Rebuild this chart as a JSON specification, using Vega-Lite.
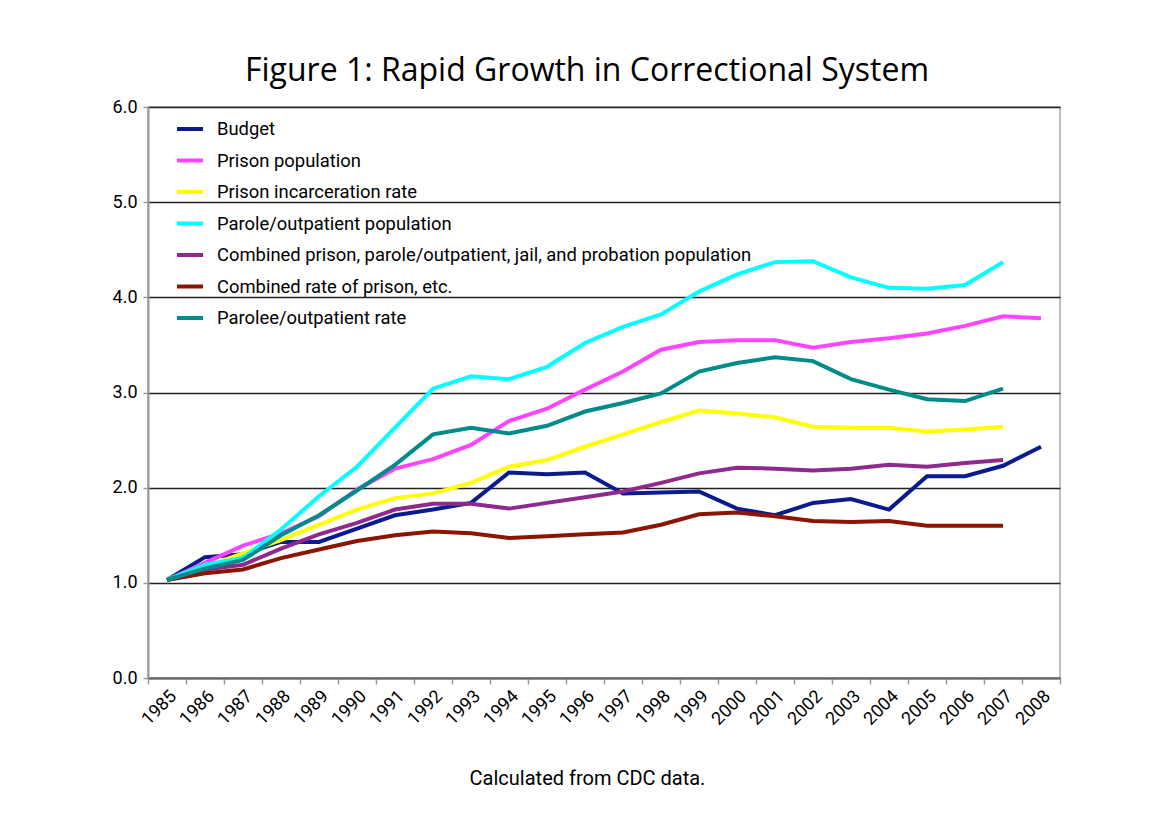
{
  "$schema": "https://vega.github.io/schema/vega-lite/v6.json",
  "width": 912,
  "height": 571,
  "autosize": {"type": "none"},
  "padding": {"left": 148, "top": 107, "right": 110, "bottom": 138},
  "background": "white",
  "title": {
    "text": "Figure 1: Rapid Growth in Correctional System",
    "font": "Open Sans",
    "fontSize": 32,
    "fontWeight": "normal",
    "color": "black",
    "anchor": "middle",
    "dx": -17,
    "offset": 10
  },
  "data": {
    "values": [
      {"year": "1985", "series": "Budget", "value": 1.03},
      {"year": "1986", "series": "Budget", "value": 1.27},
      {"year": "1987", "series": "Budget", "value": 1.30},
      {"year": "1988", "series": "Budget", "value": 1.43},
      {"year": "1989", "series": "Budget", "value": 1.43},
      {"year": "1990", "series": "Budget", "value": 1.57},
      {"year": "1991", "series": "Budget", "value": 1.71},
      {"year": "1992", "series": "Budget", "value": 1.77},
      {"year": "1993", "series": "Budget", "value": 1.84},
      {"year": "1994", "series": "Budget", "value": 2.16},
      {"year": "1995", "series": "Budget", "value": 2.14},
      {"year": "1996", "series": "Budget", "value": 2.16},
      {"year": "1997", "series": "Budget", "value": 1.94},
      {"year": "1998", "series": "Budget", "value": 1.95},
      {"year": "1999", "series": "Budget", "value": 1.96},
      {"year": "2000", "series": "Budget", "value": 1.78},
      {"year": "2001", "series": "Budget", "value": 1.71},
      {"year": "2002", "series": "Budget", "value": 1.84},
      {"year": "2003", "series": "Budget", "value": 1.88},
      {"year": "2004", "series": "Budget", "value": 1.77},
      {"year": "2005", "series": "Budget", "value": 2.12},
      {"year": "2006", "series": "Budget", "value": 2.12},
      {"year": "2007", "series": "Budget", "value": 2.23},
      {"year": "2008", "series": "Budget", "value": 2.43},

      {"year": "1985", "series": "Prison population", "value": 1.03},
      {"year": "1986", "series": "Prison population", "value": 1.21},
      {"year": "1987", "series": "Prison population", "value": 1.39},
      {"year": "1988", "series": "Prison population", "value": 1.52},
      {"year": "1989", "series": "Prison population", "value": 1.70},
      {"year": "1990", "series": "Prison population", "value": 1.98},
      {"year": "1991", "series": "Prison population", "value": 2.20},
      {"year": "1992", "series": "Prison population", "value": 2.30},
      {"year": "1993", "series": "Prison population", "value": 2.45},
      {"year": "1994", "series": "Prison population", "value": 2.70},
      {"year": "1995", "series": "Prison population", "value": 2.83},
      {"year": "1996", "series": "Prison population", "value": 3.03},
      {"year": "1997", "series": "Prison population", "value": 3.22},
      {"year": "1998", "series": "Prison population", "value": 3.45},
      {"year": "1999", "series": "Prison population", "value": 3.53},
      {"year": "2000", "series": "Prison population", "value": 3.55},
      {"year": "2001", "series": "Prison population", "value": 3.55},
      {"year": "2002", "series": "Prison population", "value": 3.47},
      {"year": "2003", "series": "Prison population", "value": 3.53},
      {"year": "2004", "series": "Prison population", "value": 3.57},
      {"year": "2005", "series": "Prison population", "value": 3.62},
      {"year": "2006", "series": "Prison population", "value": 3.70},
      {"year": "2007", "series": "Prison population", "value": 3.80},
      {"year": "2008", "series": "Prison population", "value": 3.78},

      {"year": "1985", "series": "Prison incarceration rate", "value": 1.03},
      {"year": "1986", "series": "Prison incarceration rate", "value": 1.17},
      {"year": "1987", "series": "Prison incarceration rate", "value": 1.31},
      {"year": "1988", "series": "Prison incarceration rate", "value": 1.45},
      {"year": "1989", "series": "Prison incarceration rate", "value": 1.61},
      {"year": "1990", "series": "Prison incarceration rate", "value": 1.77},
      {"year": "1991", "series": "Prison incarceration rate", "value": 1.89},
      {"year": "1992", "series": "Prison incarceration rate", "value": 1.94},
      {"year": "1993", "series": "Prison incarceration rate", "value": 2.05},
      {"year": "1994", "series": "Prison incarceration rate", "value": 2.22},
      {"year": "1995", "series": "Prison incarceration rate", "value": 2.29},
      {"year": "1996", "series": "Prison incarceration rate", "value": 2.43},
      {"year": "1997", "series": "Prison incarceration rate", "value": 2.56},
      {"year": "1998", "series": "Prison incarceration rate", "value": 2.69},
      {"year": "1999", "series": "Prison incarceration rate", "value": 2.81},
      {"year": "2000", "series": "Prison incarceration rate", "value": 2.78},
      {"year": "2001", "series": "Prison incarceration rate", "value": 2.74},
      {"year": "2002", "series": "Prison incarceration rate", "value": 2.64},
      {"year": "2003", "series": "Prison incarceration rate", "value": 2.63},
      {"year": "2004", "series": "Prison incarceration rate", "value": 2.63},
      {"year": "2005", "series": "Prison incarceration rate", "value": 2.59},
      {"year": "2006", "series": "Prison incarceration rate", "value": 2.61},
      {"year": "2007", "series": "Prison incarceration rate", "value": 2.64},

      {"year": "1985", "series": "Parole/outpatient population", "value": 1.03},
      {"year": "1986", "series": "Parole/outpatient population", "value": 1.19},
      {"year": "1987", "series": "Parole/outpatient population", "value": 1.26},
      {"year": "1988", "series": "Parole/outpatient population", "value": 1.56},
      {"year": "1989", "series": "Parole/outpatient population", "value": 1.91},
      {"year": "1990", "series": "Parole/outpatient population", "value": 2.22},
      {"year": "1991", "series": "Parole/outpatient population", "value": 2.63},
      {"year": "1992", "series": "Parole/outpatient population", "value": 3.04},
      {"year": "1993", "series": "Parole/outpatient population", "value": 3.17},
      {"year": "1994", "series": "Parole/outpatient population", "value": 3.14},
      {"year": "1995", "series": "Parole/outpatient population", "value": 3.27},
      {"year": "1996", "series": "Parole/outpatient population", "value": 3.52},
      {"year": "1997", "series": "Parole/outpatient population", "value": 3.69},
      {"year": "1998", "series": "Parole/outpatient population", "value": 3.82},
      {"year": "1999", "series": "Parole/outpatient population", "value": 4.06},
      {"year": "2000", "series": "Parole/outpatient population", "value": 4.24},
      {"year": "2001", "series": "Parole/outpatient population", "value": 4.37},
      {"year": "2002", "series": "Parole/outpatient population", "value": 4.38},
      {"year": "2003", "series": "Parole/outpatient population", "value": 4.21},
      {"year": "2004", "series": "Parole/outpatient population", "value": 4.10},
      {"year": "2005", "series": "Parole/outpatient population", "value": 4.09},
      {"year": "2006", "series": "Parole/outpatient population", "value": 4.13},
      {"year": "2007", "series": "Parole/outpatient population", "value": 4.37},

      {"year": "1985", "series": "Combined prison, parole/outpatient, jail, and probation population", "value": 1.03},
      {"year": "1986", "series": "Combined prison, parole/outpatient, jail, and probation population", "value": 1.14},
      {"year": "1987", "series": "Combined prison, parole/outpatient, jail, and probation population", "value": 1.19},
      {"year": "1988", "series": "Combined prison, parole/outpatient, jail, and probation population", "value": 1.36},
      {"year": "1989", "series": "Combined prison, parole/outpatient, jail, and probation population", "value": 1.51},
      {"year": "1990", "series": "Combined prison, parole/outpatient, jail, and probation population", "value": 1.63},
      {"year": "1991", "series": "Combined prison, parole/outpatient, jail, and probation population", "value": 1.77},
      {"year": "1992", "series": "Combined prison, parole/outpatient, jail, and probation population", "value": 1.83},
      {"year": "1993", "series": "Combined prison, parole/outpatient, jail, and probation population", "value": 1.83},
      {"year": "1994", "series": "Combined prison, parole/outpatient, jail, and probation population", "value": 1.78},
      {"year": "1995", "series": "Combined prison, parole/outpatient, jail, and probation population", "value": 1.84},
      {"year": "1996", "series": "Combined prison, parole/outpatient, jail, and probation population", "value": 1.90},
      {"year": "1997", "series": "Combined prison, parole/outpatient, jail, and probation population", "value": 1.96},
      {"year": "1998", "series": "Combined prison, parole/outpatient, jail, and probation population", "value": 2.05},
      {"year": "1999", "series": "Combined prison, parole/outpatient, jail, and probation population", "value": 2.15},
      {"year": "2000", "series": "Combined prison, parole/outpatient, jail, and probation population", "value": 2.21},
      {"year": "2001", "series": "Combined prison, parole/outpatient, jail, and probation population", "value": 2.20},
      {"year": "2002", "series": "Combined prison, parole/outpatient, jail, and probation population", "value": 2.18},
      {"year": "2003", "series": "Combined prison, parole/outpatient, jail, and probation population", "value": 2.20},
      {"year": "2004", "series": "Combined prison, parole/outpatient, jail, and probation population", "value": 2.24},
      {"year": "2005", "series": "Combined prison, parole/outpatient, jail, and probation population", "value": 2.22},
      {"year": "2006", "series": "Combined prison, parole/outpatient, jail, and probation population", "value": 2.26},
      {"year": "2007", "series": "Combined prison, parole/outpatient, jail, and probation population", "value": 2.29},

      {"year": "1985", "series": "Combined rate of prison, etc.", "value": 1.03},
      {"year": "1986", "series": "Combined rate of prison, etc.", "value": 1.10},
      {"year": "1987", "series": "Combined rate of prison, etc.", "value": 1.14},
      {"year": "1988", "series": "Combined rate of prison, etc.", "value": 1.26},
      {"year": "1989", "series": "Combined rate of prison, etc.", "value": 1.35},
      {"year": "1990", "series": "Combined rate of prison, etc.", "value": 1.44},
      {"year": "1991", "series": "Combined rate of prison, etc.", "value": 1.50},
      {"year": "1992", "series": "Combined rate of prison, etc.", "value": 1.54},
      {"year": "1993", "series": "Combined rate of prison, etc.", "value": 1.52},
      {"year": "1994", "series": "Combined rate of prison, etc.", "value": 1.47},
      {"year": "1995", "series": "Combined rate of prison, etc.", "value": 1.49},
      {"year": "1996", "series": "Combined rate of prison, etc.", "value": 1.51},
      {"year": "1997", "series": "Combined rate of prison, etc.", "value": 1.53},
      {"year": "1998", "series": "Combined rate of prison, etc.", "value": 1.61},
      {"year": "1999", "series": "Combined rate of prison, etc.", "value": 1.72},
      {"year": "2000", "series": "Combined rate of prison, etc.", "value": 1.74},
      {"year": "2001", "series": "Combined rate of prison, etc.", "value": 1.70},
      {"year": "2002", "series": "Combined rate of prison, etc.", "value": 1.65},
      {"year": "2003", "series": "Combined rate of prison, etc.", "value": 1.64},
      {"year": "2004", "series": "Combined rate of prison, etc.", "value": 1.65},
      {"year": "2005", "series": "Combined rate of prison, etc.", "value": 1.60},
      {"year": "2006", "series": "Combined rate of prison, etc.", "value": 1.60},
      {"year": "2007", "series": "Combined rate of prison, etc.", "value": 1.60},

      {"year": "1985", "series": "Parolee/outpatient rate", "value": 1.03},
      {"year": "1986", "series": "Parolee/outpatient rate", "value": 1.15},
      {"year": "1987", "series": "Parolee/outpatient rate", "value": 1.24},
      {"year": "1988", "series": "Parolee/outpatient rate", "value": 1.50},
      {"year": "1989", "series": "Parolee/outpatient rate", "value": 1.71},
      {"year": "1990", "series": "Parolee/outpatient rate", "value": 1.97},
      {"year": "1991", "series": "Parolee/outpatient rate", "value": 2.24},
      {"year": "1992", "series": "Parolee/outpatient rate", "value": 2.56},
      {"year": "1993", "series": "Parolee/outpatient rate", "value": 2.63},
      {"year": "1994", "series": "Parolee/outpatient rate", "value": 2.57},
      {"year": "1995", "series": "Parolee/outpatient rate", "value": 2.65},
      {"year": "1996", "series": "Parolee/outpatient rate", "value": 2.80},
      {"year": "1997", "series": "Parolee/outpatient rate", "value": 2.89},
      {"year": "1998", "series": "Parolee/outpatient rate", "value": 2.99},
      {"year": "1999", "series": "Parolee/outpatient rate", "value": 3.22},
      {"year": "2000", "series": "Parolee/outpatient rate", "value": 3.31},
      {"year": "2001", "series": "Parolee/outpatient rate", "value": 3.37},
      {"year": "2002", "series": "Parolee/outpatient rate", "value": 3.33},
      {"year": "2003", "series": "Parolee/outpatient rate", "value": 3.14},
      {"year": "2004", "series": "Parolee/outpatient rate", "value": 3.03},
      {"year": "2005", "series": "Parolee/outpatient rate", "value": 2.93},
      {"year": "2006", "series": "Parolee/outpatient rate", "value": 2.91},
      {"year": "2007", "series": "Parolee/outpatient rate", "value": 3.04}
    ]
  },
  "mark": {"type": "line", "strokeWidth": 4, "strokeJoin": "miter"},
  "encoding": {
    "x": {
      "field": "year",
      "type": "ordinal",
      "scale": {"type": "band", "paddingInner": 0, "paddingOuter": 0},
      "axis": {
        "title": "Calculated from CDC data.",
        "titleFont": "Roboto",
        "titleFontSize": 20,
        "titleFontWeight": "normal",
        "titleColor": "black",
        "titlePadding": 40,
        "titleX": 439,
        "labelAngle": -45,
        "labelAlign": "right",
        "labelBaseline": "top",
        "labelFont": "Roboto",
        "labelFontSize": 18,
        "labelColor": "black",
        "labelPadding": 3,
        "tickBand": "extent",
        "ticks": true,
        "tickSize": 6,
        "tickColor": "#999999",
        "tickWidth": 1.5,
        "domainColor": "#666666",
        "domainWidth": 2,
        "grid": false
      }
    },
    "y": {
      "field": "value",
      "type": "quantitative",
      "scale": {"domain": [0, 6], "nice": false},
      "axis": {
        "title": null,
        "values": [0, 1, 2, 3, 4, 5, 6],
        "format": ".1f",
        "labelFont": "Roboto",
        "labelFontSize": 18,
        "labelColor": "black",
        "labelPadding": 6,
        "tickSize": 5,
        "tickColor": "#999999",
        "tickWidth": 1.5,
        "domainColor": "#999999",
        "domainWidth": 2,
        "grid": true,
        "gridColor": "#222222",
        "gridWidth": 1.5
      }
    },
    "color": {
      "field": "series",
      "type": "nominal",
      "sort": null,
      "scale": {
        "domain": ["Budget", "Prison population", "Prison incarceration rate", "Parole/outpatient population", "Combined prison, parole/outpatient, jail, and probation population", "Combined rate of prison, etc.", "Parolee/outpatient rate"],
        "range": ["#0a1a8f", "#ff44ff", "#ffff00", "#00ffff", "#8e2a8e", "#8b1500", "#008b8b"]
      },
      "legend": {
        "title": null,
        "orient": "none",
        "legendX": 27,
        "legendY": 7,
        "symbolType": "stroke",
        "symbolSize": 676,
        "symbolStrokeWidth": 4,
        "labelFont": "Roboto",
        "labelFontSize": 18.4,
        "labelColor": "black",
        "labelOffset": 12,
        "labelLimit": 800,
        "rowPadding": 6.5,
        "padding": 0
      }
    }
  },
  "config": {
    "view": {"stroke": "#aaaaaa", "strokeWidth": 1.5}
  }
}
